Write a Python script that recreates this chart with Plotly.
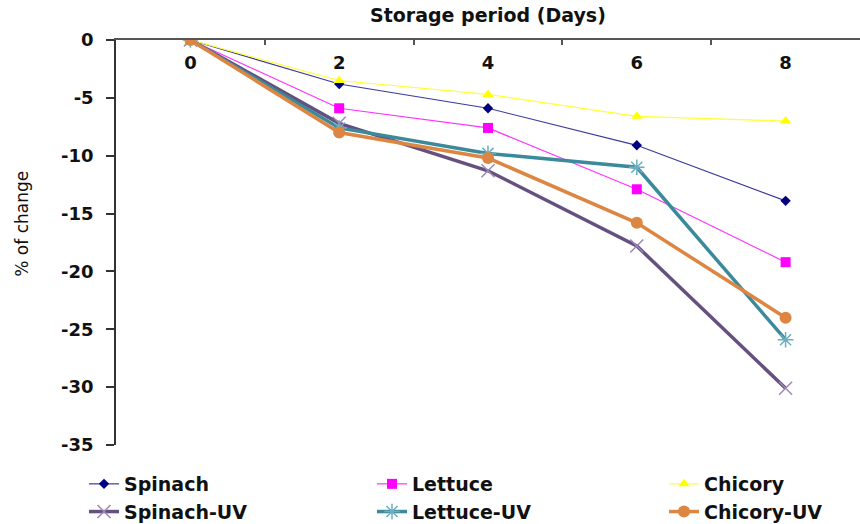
import plotly.graph_objects as go

# Storage period (days) and percentage change per sample
days = ["0", "2", "4", "6", "8"]
spinach = [0, -3.8, -5.9, -9.1, -13.9]
lettuce = [0, -5.9, -7.6, -12.9, -19.2]
chicory = [0, -3.5, -4.7, -6.6, -7.0]
spinach_uv = [0, -7.2, -11.3, -17.8, -30.1]
lettuce_uv = [0, -7.6, -9.8, -11.0, -25.9]
chicory_uv = [0, -8.0, -10.2, -15.8, -24.0]

y_ticks = [0, -5, -10, -15, -20, -25, -30, -35]

# name, values, line colour, line width, marker, legend column
series = [
    ("Spinach", spinach, "#3b3b9c", 1.2, dict(symbol="diamond", size=8, color="#000080"), "legend"),
    ("Lettuce", lettuce, "#ff33ff", 1.2, dict(symbol="square", size=10, color="#ff00ff"), "legend2"),
    ("Chicory", chicory, "#ffff33", 1.2, dict(symbol="triangle-up", size=10, color="#ffff00"), "legend3"),
    ("Spinach-UV", spinach_uv, "#65507f", 3.5,
     dict(symbol="x-thin-open", size=13, color="#9c88b8", line=dict(width=1.5, color="#9c88b8")), "legend"),
    ("Lettuce-UV", lettuce_uv, "#3a8a9c", 3.5,
     dict(symbol="asterisk-open", size=13, color="#6aaebf", line=dict(width=1.5, color="#6aaebf")), "legend2"),
    ("Chicory-UV", chicory_uv, "#dd8642", 3.5, dict(symbol="circle", size=12, color="#dd8642"), "legend3"),
]

fig = go.Figure()
for name, vals, lc, lw, mk, lg in series:
    fig.add_trace(go.Scatter(
        x=days, y=vals, name=name, mode="lines+markers",
        line=dict(color=lc, width=lw), marker=mk, legend=lg,
    ))

bold = dict(family="DejaVu Sans", size=18, color="#111111", weight="bold")
legend_font = dict(family="DejaVu Sans", size=19, color="#111111", weight="bold")


def column_legend(px_left):
    # px_left: pixel position of the legend box's left edge in the figure
    return dict(
        orientation="v", x=(px_left - 116) / 744, xanchor="left",
        y=(445 - 465) / 405, yanchor="top",
        font=legend_font, bgcolor="rgba(0,0,0,0)", tracegroupgap=0,
    )


fig.update_layout(
    width=860, height=524,
    margin=dict(l=116, r=0, t=40, b=79, autoexpand=False),
    paper_bgcolor="white", plot_bgcolor="white",
    showlegend=True,
    legend=column_legend(84),
    legend2=column_legend(372),
    legend3=column_legend(664),
    xaxis=dict(
        type="category", side="top", range=[-0.5, 4.5],
        showline=True, linecolor="#555555", linewidth=1.5,
        ticks="inside", tickson="boundaries", ticklen=5, tickcolor="#555555", tickwidth=1.5,
        showticklabels=False, showgrid=False, zeroline=False,
    ),
    # day labels sit just under the top axis line
    xaxis2=dict(
        overlaying="x", anchor="free", position=1 - 10 / 405, side="bottom",
        range=[-0.5, 4.5], tickvals=list(range(len(days))), ticktext=days,
        showline=False, ticks="", tickfont=bold, showgrid=False, zeroline=False,
    ),
    yaxis=dict(
        range=[-35, 0], tickvals=y_ticks, ticktext=[str(v) for v in y_ticks],
        showline=True, linecolor="#333333", linewidth=1.5,
        ticks="outside", ticklen=8, tickcolor="#333333", tickwidth=1.5,
        ticklabelstandoff=9,
        tickfont=bold, showgrid=False, zeroline=False,
    ),
    annotations=[
        dict(text="Storage period (Days)", xref="paper", yref="paper", x=0.5, y=1,
             xanchor="center", yanchor="middle", yshift=25, showarrow=False,
             font=dict(family="DejaVu Sans", size=19, color="#111111", weight="bold")),
        dict(text="% of change", xref="paper", yref="paper", x=-0.126, y=0.547,
             xanchor="center", yanchor="middle",
             textangle=-90, showarrow=False,
             font=dict(family="DejaVu Sans", size=17, color="#111111")),
    ],
)

# an invisible trace places the xaxis2 labels
fig.add_trace(go.Scatter(x=[], y=[], xaxis="x2", showlegend=False, hoverinfo="skip"))

fig.write_html("out.html")
